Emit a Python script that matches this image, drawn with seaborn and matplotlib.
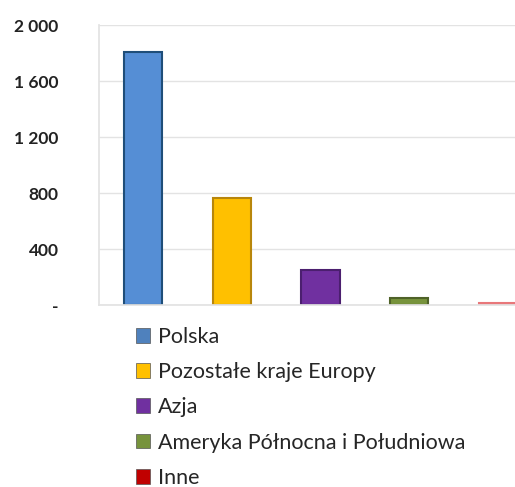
import matplotlib
matplotlib.use("Agg")
import matplotlib.pyplot as plt
from matplotlib.patches import Patch
from matplotlib.ticker import FuncFormatter
import seaborn as sns
import pandas as pd

categories = ["Polska", "Pozostałe kraje Europy", "Azja",
              "Ameryka Północna i Południowa", "Inne"]
values = [1810, 765, 250, 50, 15]
colors = ["#558ED5", "#FFC000", "#7030A0", "#77933C", "#E8777A"]
edge_colors = ["#1F4E79", "#B8860B", "#4B1F6F", "#4F6228", "#E8777A"]
legend_colors = ["#4F81BD", "#FFC000", "#7030A0", "#77933C", "#C00000"]
y_ticks = [0, 400, 800, 1200, 1600, 2000]

sns.set_theme(style="white")
plt.rcParams["font.family"] = ["Lato", "DejaVu Sans"]

df = pd.DataFrame({"region": categories, "value": values})

fig = plt.figure(figsize=(5.15, 4.87), dpi=100)
# right edge runs past the figure, the last bar is cut off in the original
ax = fig.add_axes([99 / 515, 1 - 305 / 487, 443 / 515, 280 / 487])

sns.barplot(data=df, x="region", y="value", hue="region", palette=colors,
            saturation=1, legend=False, width=0.43, ax=ax)
for bar, ec in zip(ax.patches, edge_colors):
    bar.set_edgecolor(ec)
    bar.set_linewidth(1.5)

ax.set_ylim(0, 2000)
ax.set_xlim(-0.5, 4.5)
ax.set_yticks(y_ticks)
ax.yaxis.set_major_formatter(FuncFormatter(
    lambda v, p: "-" if v == 0 else f"{int(v):,}".replace(",", " ")))
ax.tick_params(axis="y", length=0, pad=29, labelsize=12.5)
for lab in ax.get_yticklabels():
    lab.set_fontweight("bold")
    lab.set_color("#222222")
ax.set_xticks([])
ax.set_xlabel("")
ax.set_ylabel("")
ax.grid(axis="y", color="#E3E3E3", linewidth=1)
ax.set_axisbelow(True)
for side in ["top", "right"]:
    ax.spines[side].set_visible(False)
ax.spines["left"].set_color("#E3E3E3")
ax.spines["bottom"].set_color("#E3E3E3")

handles = [Patch(facecolor=c, edgecolor="#555555", linewidth=0.5) for c in legend_colors]
fig.legend(handles, categories, loc="upper left",
           bbox_to_anchor=(125 / 515, 1 - 316 / 487), frameon=False,
           fontsize=15.5, handlelength=0.68, handleheight=0.68,
           handletextpad=0.33, labelspacing=0.71, borderpad=0)

fig.savefig("out.png", dpi=100)
